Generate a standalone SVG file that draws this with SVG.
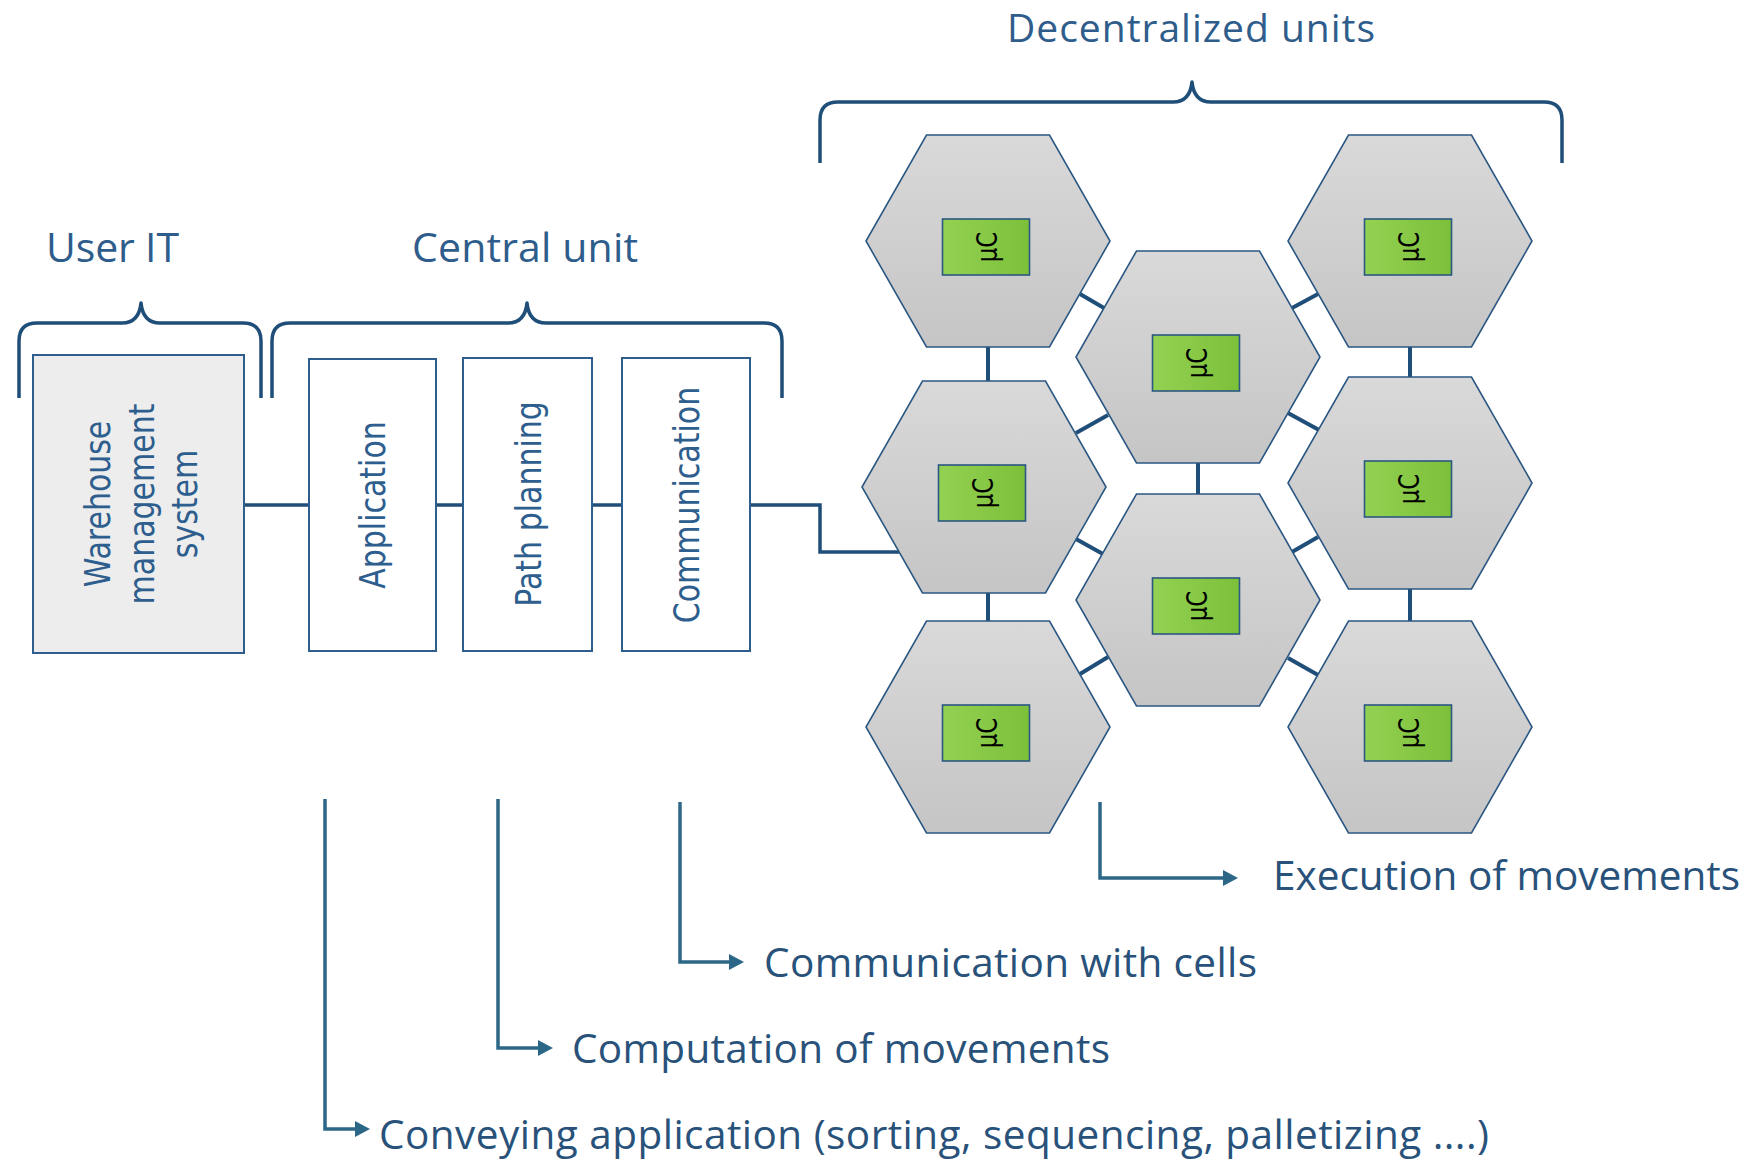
<svg xmlns="http://www.w3.org/2000/svg" xmlns:xlink="http://www.w3.org/1999/xlink" width="1749" height="1160" viewBox="0 0 1749 1160">
<defs>
<linearGradient id="hexg" x1="0" y1="0" x2="0" y2="1"><stop offset="0" stop-color="#D9D9D9"/><stop offset="1" stop-color="#C5C5C5"/></linearGradient>
<linearGradient id="ucg" x1="0" y1="0" x2="1" y2="0"><stop offset="0" stop-color="#93D152"/><stop offset="1" stop-color="#7CC03A"/></linearGradient>
<marker id="arr" viewBox="0 0 15 16" refX="5" refY="8" markerWidth="15" markerHeight="16" markerUnits="userSpaceOnUse" orient="auto"><path d="M0,0 L15,8 L0,16 Z" fill="#2C6788"/></marker>
<style>
.hdr{font-family:"Open Sans","Liberation Sans",sans-serif;font-size:41px;fill:#2E5D8C}
.lbl{font-family:"Open Sans","Liberation Sans",sans-serif;font-size:40.5px;fill:#29527B}
.vt{font-family:"DejaVu Sans","Liberation Sans",sans-serif;font-size:30px;fill:#2E5E8E;text-anchor:middle}
.uct{font-family:"DejaVu Sans","Liberation Sans",sans-serif;font-size:23px;fill:#000;text-anchor:middle}
.brace{fill:none;stroke:#1F4E79;stroke-width:3.5;stroke-linejoin:round}
.box{fill:#FFFFFF;stroke:#2E5E8E;stroke-width:2}
.wms{fill:#EDEDED;stroke:#2E5E8E;stroke-width:2}
.hex{fill:url(#hexg);stroke:#2B5783;stroke-width:1.6}
.uc{fill:url(#ucg);stroke:#2B5783;stroke-width:1.6}
.link{fill:none;stroke:#1F4E79;stroke-width:3.5}
.hl{fill:none;stroke:#1F4E79;stroke-width:4}
.note{fill:none;stroke:#2C6788;stroke-width:3.5}
</style>
</defs>
<rect width="1749" height="1160" fill="#FFFFFF"/>

<g id="headers">
<text class="hdr" x="46" y="262" textLength="133">User IT</text>
<text class="hdr" x="412" y="262" textLength="226">Central unit</text>
<text class="hdr" x="1007" y="42" style="font-size:39px" textLength="368">Decentralized units</text>
<path class="brace" d="M19,398 V341 Q19,323 37,323 H122 Q139,323 141,303 Q143,323 160,323 H243 Q261,323 261,341 V398"/>
<path class="brace" d="M272,398 V341 Q272,323 290,323 H508 Q525,323 527,303 Q529,323 546,323 H764 Q782,323 782,341 V398"/>
<path class="brace" d="M820,163 V120 Q820,102 838,102 H1173 Q1190,102 1192,82 Q1194,102 1211,102 H1544 Q1562,102 1562,120 V163"/>
</g>

<g id="connectors">
<path class="link" d="M245,505 H309"/>
<path class="link" d="M437,505 H463"/>
<path class="link" d="M592,505 H622"/>
<path class="link" d="M750,505 H820 V552 H899"/>
<path class="hl" d="M988,347 V381"/>
<path class="hl" d="M1410,347 V377"/>
<path class="hl" d="M1198,463 V494"/>
<path class="hl" d="M988,593 V622"/>
<path class="hl" d="M1410,589 V622"/>
<path class="hl" d="M1080,294 L1104,308"/>
<path class="hl" d="M1292,308 L1318,294"/>
<path class="hl" d="M1076,433 L1108,415"/>
<path class="hl" d="M1288,413 L1319,430"/>
<path class="hl" d="M1076,539 L1103,554"/>
<path class="hl" d="M1292,552 L1318,537"/>
<path class="hl" d="M1080,674 L1108,657"/>
<path class="hl" d="M1288,658 L1318,675"/>
<path class="note" d="M325,799 V1129 H360" marker-end="url(#arr)"/>
<path class="note" d="M498,799 V1048 H543" marker-end="url(#arr)"/>
<path class="note" d="M680,802 V962 H734" marker-end="url(#arr)"/>
<path class="note" d="M1100,802 V878 H1228" marker-end="url(#arr)"/>
</g>

<g id="wms">
<rect class="wms" x="33" y="355" width="211" height="298"/>
<text class="vt" transform="translate(139,504) rotate(-90) scale(1,1.18)"><tspan x="0" y="-25">Warehouse</tspan><tspan x="0" y="12.5">management</tspan><tspan x="0" y="49.5">system</tspan></text>
</g>
<g id="application">
<rect class="box" x="309" y="359" width="127" height="292"/>
<text class="vt" transform="translate(372.5,505) rotate(-90) scale(1,1.18)" y="11">Application</text>
</g>
<g id="path-planning">
<rect class="box" x="463" y="358" width="129" height="293"/>
<text class="vt" transform="translate(527.5,504) rotate(-90) scale(1,1.18)" y="11.5">Path planning</text>
</g>
<g id="communication">
<rect class="box" x="622" y="358" width="128" height="293"/>
<text class="vt" transform="translate(686,505) rotate(-90) scale(1,1.18)" y="11">Communication</text>
</g>

<g id="cell1" transform="translate(988,241)">
<polygon class="hex" points="-61.5,-106 61.5,-106 122,0 61.5,106 -61.5,106 -122,0"/>
<rect class="uc" x="-45.5" y="-22" width="87" height="56"/>
<text class="uct" transform="translate(-2,6) rotate(-90) scale(1,1.2)" y="9">µC</text>
</g>
<g id="cell2" transform="translate(1198,357)">
<polygon class="hex" points="-61.5,-106 61.5,-106 122,0 61.5,106 -61.5,106 -122,0"/>
<rect class="uc" x="-45.5" y="-22" width="87" height="56"/>
<text class="uct" transform="translate(-2,6) rotate(-90) scale(1,1.2)" y="9">µC</text>
</g>
<g id="cell3" transform="translate(1410,241)">
<polygon class="hex" points="-61.5,-106 61.5,-106 122,0 61.5,106 -61.5,106 -122,0"/>
<rect class="uc" x="-45.5" y="-22" width="87" height="56"/>
<text class="uct" transform="translate(-2,6) rotate(-90) scale(1,1.2)" y="9">µC</text>
</g>
<g id="cell4" transform="translate(984,487)">
<polygon class="hex" points="-61.5,-106 61.5,-106 122,0 61.5,106 -61.5,106 -122,0"/>
<rect class="uc" x="-45.5" y="-22" width="87" height="56"/>
<text class="uct" transform="translate(-2,6) rotate(-90) scale(1,1.2)" y="9">µC</text>
</g>
<g id="cell5" transform="translate(1410,483)">
<polygon class="hex" points="-61.5,-106 61.5,-106 122,0 61.5,106 -61.5,106 -122,0"/>
<rect class="uc" x="-45.5" y="-22" width="87" height="56"/>
<text class="uct" transform="translate(-2,6) rotate(-90) scale(1,1.2)" y="9">µC</text>
</g>
<g id="cell6" transform="translate(1198,600)">
<polygon class="hex" points="-61.5,-106 61.5,-106 122,0 61.5,106 -61.5,106 -122,0"/>
<rect class="uc" x="-45.5" y="-22" width="87" height="56"/>
<text class="uct" transform="translate(-2,6) rotate(-90) scale(1,1.2)" y="9">µC</text>
</g>
<g id="cell7" transform="translate(988,727)">
<polygon class="hex" points="-61.5,-106 61.5,-106 122,0 61.5,106 -61.5,106 -122,0"/>
<rect class="uc" x="-45.5" y="-22" width="87" height="56"/>
<text class="uct" transform="translate(-2,6) rotate(-90) scale(1,1.2)" y="9">µC</text>
</g>
<g id="cell8" transform="translate(1410,727)">
<polygon class="hex" points="-61.5,-106 61.5,-106 122,0 61.5,106 -61.5,106 -122,0"/>
<rect class="uc" x="-45.5" y="-22" width="87" height="56"/>
<text class="uct" transform="translate(-2,6) rotate(-90) scale(1,1.2)" y="9">µC</text>
</g>

<g id="labels">
<text class="lbl" x="1273" y="890" textLength="467">Execution of movements</text>
<text class="lbl" x="764" y="977" textLength="493">Communication with cells</text>
<text class="lbl" x="572" y="1063" textLength="538">Computation of movements</text>
<text class="lbl" x="379" y="1149" textLength="1110">Conveying application (sorting, sequencing, palletizing ....)</text>
</g>
</svg>
